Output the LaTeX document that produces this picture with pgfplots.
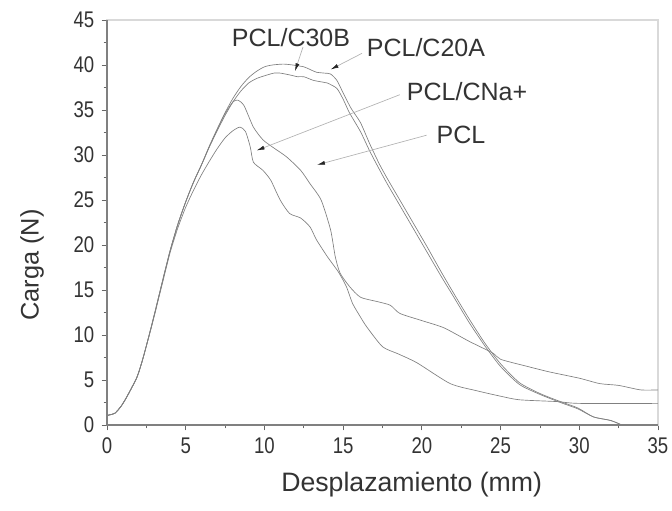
\documentclass[border=0pt]{standalone}
\usepackage{pgfplots}
\pgfplotsset{compat=1.18}
\usepackage{fontspec}
\setmainfont{Liberation Sans}
\newfontfamily\tickfont[FakeStretch=0.82]{Liberation Sans}
\usetikzlibrary{arrows.meta}
\begin{document}
\begin{tikzpicture}
\useasboundingbox (-80.25pt,-64.5pt) rectangle (423.75pt,318.75pt);
\begin{axis}[
  at={(0,0)}, anchor=south west,
  scale only axis,
  width=413.25pt, height=303.75pt,
  xmin=0, xmax=35, ymin=0, ymax=45,
  xtick={0,5,...,35}, ytick={0,5,...,45},
  minor x tick num=1, minor y tick num=1,
  tick align=outside, tick pos=left,
  major tick length=4pt, minor tick length=2.5pt,
  every tick/.style={black!60, line width=0.6pt},
  axis line style={draw=black!15, line width=0.8pt},
  tick label style={font=\tickfont\fontsize{17}{20}\selectfont, text=black!80},
  /pgf/number format/assume math mode=true,
  xticklabel style={yshift=-2pt},
  yticklabel style={xshift=-2pt},
  xlabel={Desplazamiento (mm)},
  ylabel={Carga (N)},
  xlabel style={at={(axis description cs:0.553,-0.148)}, anchor=center, font=\fontsize{20}{24}\selectfont, text=black!80},
  ylabel style={at={(axis description cs:-0.136,0.395)}, anchor=center, rotate=0, font=\fontsize{19}{23}\selectfont, text=black!80},
  clip=false,
]
% PCL/C20A (upper, bump near 14)
\addplot[black!50, line width=0.5pt, smooth, tension=0.4] coordinates {
(0,1.0) (0.1,1.1) (0.5,1.3) (0.9,2.1) (1.25,3.1) (1.9,5.3) (2.3,7.5) (2.9,11.5) (3.5,15.8) (4.0,19.3) (4.5,22.3) (5.0,24.8) (5.5,27.0) (6.0,28.9) (6.5,31.0) (7.0,32.9) (7.5,34.7) (8.0,36.3) (8.5,37.6) (9.0,38.6) (9.5,39.3) (10.0,39.8) (10.5,40.0) (11.2,40.1) (11.8,40.0) (12.5,39.8) (12.9,39.5) (13.3,39.2) (13.8,39.1) (14.2,39.0) (14.6,38.3) (15,36.9) (15.5,35.2) (16.1,33.6) (16.7,31.2) (17.3,29.0) (17.8,27.4) (18.6,25.0) (19.3,22.9) (20.3,19.9) (21.2,17.1) (22,14.7) (23,11.8) (24,9.1) (25,6.8) (26.2,4.7) (27.5,3.5) (28.8,2.6) (29.9,1.9) (30.9,0.9) (32,0.5) (32.7,0)
};
% PCL/C30B (flat top ~39)
\addplot[black!50, line width=0.5pt, smooth, tension=0.4] coordinates {
(0,1.0) (0.1,1.1) (0.5,1.3) (0.9,2.1) (1.25,3.1) (1.9,5.3) (2.3,7.5) (2.9,11.5) (3.5,15.8) (4.0,19.3) (4.5,22.3) (5.0,24.8) (5.5,27.0) (6.0,28.9) (6.5,30.9) (7.0,32.7) (7.5,34.4) (8.0,35.9) (8.5,37.1) (9.0,38.0) (9.5,38.5) (10.0,38.8) (10.6,39.1) (11.0,39.1) (11.6,38.9) (12.1,38.7) (12.5,38.7) (13.1,38.3) (13.7,38.1) (14.0,38.0) (14.6,37.4) (15,36.2) (15.4,34.7) (16.1,32.6) (16.7,30.4) (17.3,28.4) (17.8,26.8) (18.6,24.4) (19.3,22.3) (20.3,19.3) (21.2,16.6) (22,14.3) (23,11.4) (24,8.8) (25,6.5) (26.2,4.5) (27.5,3.4) (28.8,2.5) (29.9,1.8) (30.9,0.9) (32,0.5) (32.7,0)
};
% PCL (peak 36)
\addplot[black!50, line width=0.5pt, smooth, tension=0.4] coordinates {
(0,1.0) (0.1,1.1) (0.5,1.3) (0.9,2.1) (1.25,3.1) (1.9,5.3) (2.3,7.5) (2.9,11.5) (3.5,15.8) (4.0,19.3) (4.5,22.3) (5.0,24.8) (5.5,27.0) (6.0,28.9) (6.5,30.9) (7.0,32.8) (7.5,34.6) (8.0,35.9) (8.3,36.1) (8.7,35.5) (9.3,33.1) (9.9,31.7) (10.5,30.9) (11.4,29.8) (12.3,28.3) (12.9,26.8) (13.6,25.0) (14.2,21.7) (14.5,18.7) (14.8,16.9) (15.4,15.4) (16.1,14.2) (17.2,13.7) (18,13.3) (18.6,12.4) (20,11.6) (21.4,10.8) (23,9.3) (24.5,8.0) (25,7.3) (26.5,6.6) (28.1,5.9) (30,5.2) (31.3,4.6) (32.5,4.4) (33.9,3.9) (35,3.9)
};
% PCL/CNa+ (peak 33)
\addplot[black!50, line width=0.5pt, smooth, tension=0.4] coordinates {
(0,1.0) (0.1,1.1) (0.5,1.3) (0.9,2.1) (1.25,3.1) (1.9,5.3) (2.3,7.5) (2.9,11.4) (3.5,15.6) (4.0,19.1) (4.5,21.9) (5.0,24.2) (5.5,26.1) (6.0,27.8) (6.5,29.3) (7.0,30.7) (7.5,31.9) (8.0,32.7) (8.45,33.1) (8.8,32.6) (9.1,30.9) (9.3,29.2) (9.9,28.3) (10.4,27.2) (11,25) (11.6,23.5) (12.3,23.0) (12.9,22) (13.3,20.6) (14,18.7) (14.7,17) (15.2,15.4) (15.6,13.5) (16.1,12) (16.5,10.9) (17.5,8.7) (18.5,7.9) (19.7,6.9) (21.8,4.6) (23.5,3.8) (25,3.2) (26.2,2.8) (28.6,2.6) (30,2.4) (35,2.4)
};
% darker left and bottom axis lines
\draw[black!50, line width=1pt] (rel axis cs:0,1) -- (rel axis cs:0,0) -- (rel axis cs:1,0);
% annotations
\node[font=\fontsize{18.75}{22}\selectfont, text=black!80] at (axis cs:11.69,43.1) {PCL/C30B};
\node[font=\fontsize{18.75}{22}\selectfont, text=black!80] at (axis cs:20.26,41.9) {PCL/C20A};
\node[font=\fontsize{18.75}{22}\selectfont, text=black!80] at (axis cs:22.87,37.0) {PCL/CNa+};
\node[font=\fontsize{18.75}{22}\selectfont, text=black!80] at (axis cs:22.49,32.2) {PCL};
\draw[black!30, line width=0.5pt, -{Latex[length=6pt,width=3pt,color=black!85]}] (axis cs:12.45,42.0) -- (axis cs:11.94,39.3);
\draw[black!30, line width=0.5pt, -{Latex[length=6pt,width=3pt,color=black!85]}] (axis cs:16.2,41.3) -- (axis cs:14.2,39.5);
\draw[black!30, line width=0.5pt, -{Latex[length=6pt,width=3pt,color=black!85]}] (axis cs:18.6,36.7) -- (axis cs:9.5,30.5);
\draw[black!30, line width=0.5pt, -{Latex[length=6pt,width=3pt,color=black!85]}] (axis cs:20.3,32.2) -- (axis cs:13.34,28.9);
\end{axis}
\end{tikzpicture}
\end{document}
